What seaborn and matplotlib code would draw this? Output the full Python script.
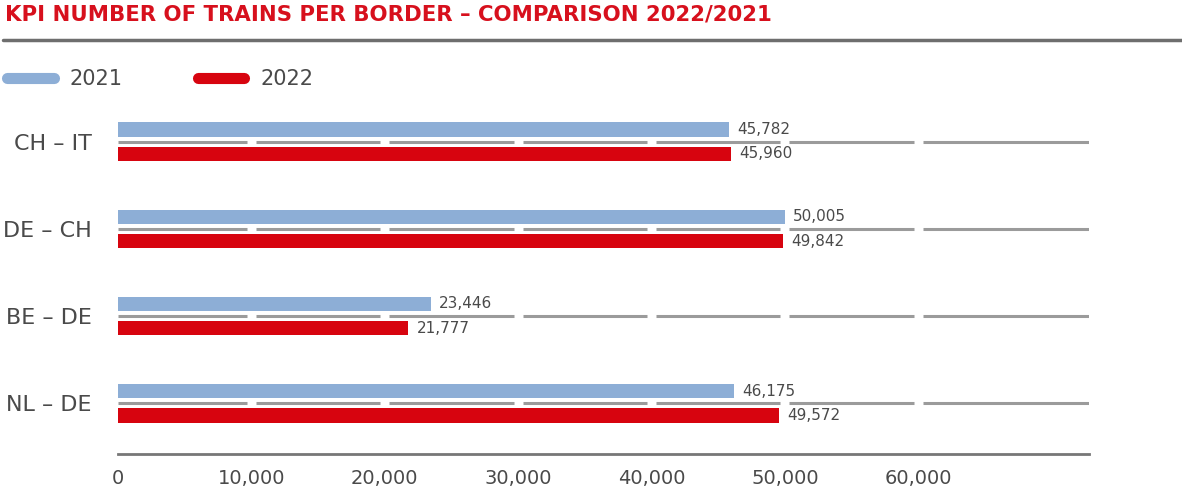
import matplotlib
matplotlib.use("Agg")
import matplotlib.pyplot as plt
from matplotlib.lines import Line2D
import pandas as pd
import seaborn as sns

# Trains per border crossing, 2021 vs 2022
borders = ["CH – IT", "DE – CH", "BE – DE", "NL – DE"]
trains_2021 = [45782, 50005, 23446, 46175]
trains_2022 = [45960, 49842, 21777, 49572]
years = ["2021", "2022"]
x_ticks = [0, 10000, 20000, 30000, 40000, 50000, 60000]
x_max = 72800

title = "KPI NUMBER OF TRAINS PER BORDER – COMPARISON 2022/2021"

BLUE = "#8daed6"
RED = "#d7040f"
TEXT = "#4a4a4a"
GRID = "#9b9b9b"

df = pd.DataFrame({
    "border": borders * 2,
    "year": [years[0]] * len(borders) + [years[1]] * len(borders),
    "trains": trains_2021 + trains_2022,
})

sns.set_theme(style="white")
plt.rcParams["font.family"] = ["DejaVu Sans"]

fig = plt.figure(figsize=(11.82, 4.90), dpi=100)
ax = fig.add_axes([118 / 1182, 1 - 454 / 490, (1089 - 118) / 1182, (454 - 95) / 490])

sns.barplot(
    data=df, y="border", x="trains", hue="year", order=borders, hue_order=years,
    palette=[BLUE, RED], orient="h", width=0.552, gap=0.377, legend=False,
    saturation=1, ax=ax, zorder=3, linewidth=0, edgecolor="none",
)

# value labels at the end of each bar
for cont in ax.containers:
    ax.bar_label(cont, labels=[f"{w:,.0f}" for w in cont.datavalues],
                 padding=6, fontsize=11, color=TEXT)

# broken horizontal guide line through each border, split at the x ticks
g = 340
bounds = [0] + x_ticks[1:] + [x_max]
for i in range(len(borders)):
    for a, b in zip(bounds[:-1], bounds[1:]):
        start = a + g if a > 0 else a
        end = b - g if b < x_max else b
        ax.hlines(i, start, end, color=GRID, lw=2.2, zorder=2)

ax.set_xlim(0, x_max)
ax.set_ylim(3.586, -0.540)
ax.set_xticks(x_ticks)
ax.set_xticklabels([f"{t:,}" for t in x_ticks])
ax.set_xlabel("")
ax.set_ylabel("")
ax.tick_params(axis="x", length=0, pad=11, labelsize=14, labelcolor=TEXT)
ax.tick_params(axis="y", length=0, pad=19, labelsize=16, labelcolor=TEXT)
for side in ["top", "right", "left"]:
    ax.spines[side].set_visible(False)
ax.spines["bottom"].set_color("#777777")
ax.spines["bottom"].set_linewidth(2)
ax.grid(False)

# title and rule beneath it
fig.text(5 / 1182, 1 - 15 / 490, title, color="#d7101d", fontsize=15.3,
         fontweight="bold", va="center", ha="left")
fig.add_artist(Line2D([3 / 1182, 1.0], [1 - 40 / 490] * 2, color="#6e6e6e",
                      lw=2.5, transform=fig.transFigure))

# legend
handles = [Line2D([0], [0], color=c, lw=8, solid_capstyle="round") for c in (BLUE, RED)]
leg = fig.legend(handles, years, loc="center left",
                 bbox_to_anchor=(7 / 1182, 1 - 79 / 490), ncol=2, frameon=False,
                 fontsize=15, handlelength=2.25, handletextpad=0.75,
                 columnspacing=3.6, borderpad=0, borderaxespad=0)
for t in leg.get_texts():
    t.set_color(TEXT)

fig.savefig("out.png", dpi=100)
